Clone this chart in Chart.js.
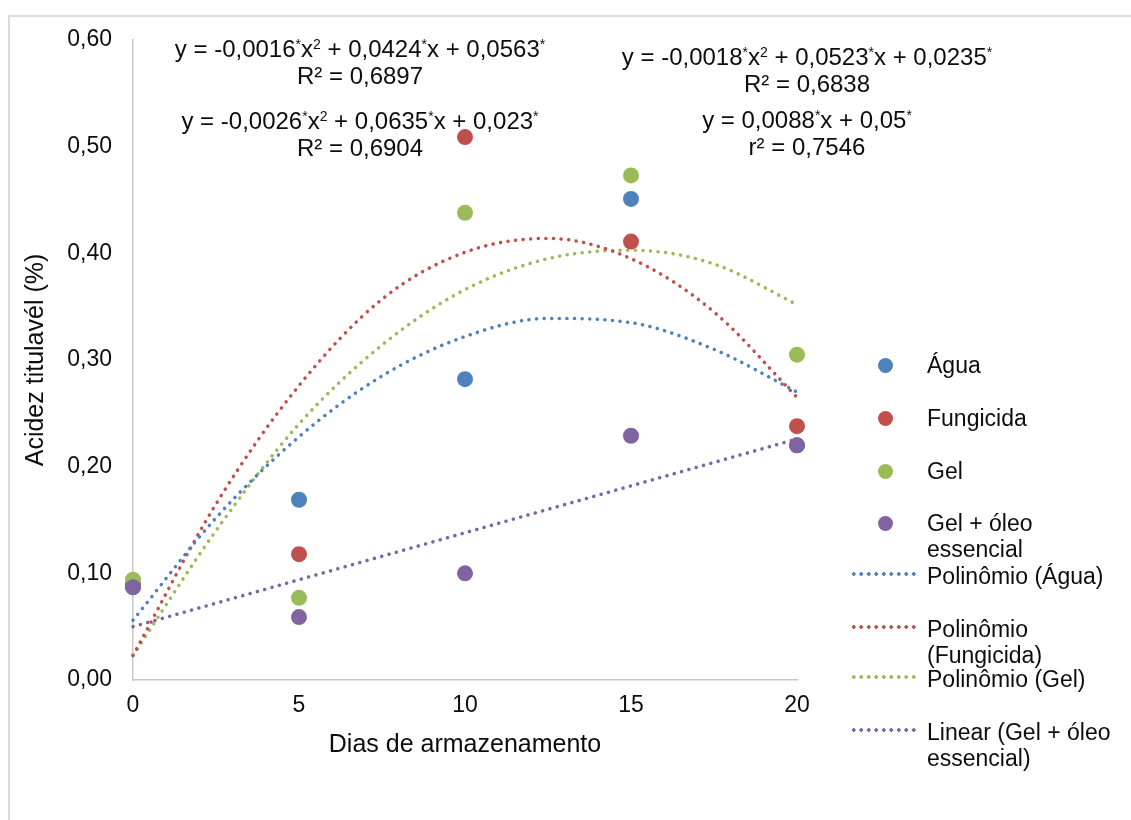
<!DOCTYPE html>
<html lang="pt">
<head>
    <meta charset="UTF-8">
    <title>Acidez titulável</title>
    <script src="https://cdn.jsdelivr.net/npm/chart.js"></script>
    <style>
        body {
            margin: 0;
            width: 1131px;
            height: 820px;
            overflow: hidden;
            background: #fff;
            font-family: "Liberation Sans", Arial, sans-serif;
            color: #0d0d0d;
        }
        .wrap { position: relative; width: 1131px; height: 820px; }
        .frame {
            position: absolute; left: 8px; top: 15px;
            width: 1200px; height: 900px;
            border: 2px solid #dcdcdc;
        }
        canvas { position: absolute; left: 0; top: 0; }
        .eq {
            position: absolute;
            transform: translateX(-50%);
            text-align: center;
            font-size: 24px;
            line-height: 27px;
            white-space: nowrap;
        }
        .eq sup { font-size: 14px; vertical-align: 8px; line-height: 0; }
        .leg {
            position: absolute;
            left: 927px;
            font-size: 23px;
            line-height: 26px;
            white-space: nowrap;
        }
        .dot {
            position: absolute;
            width: 15px; height: 15px;
            border-radius: 50%;
        }
        .dash {
            position: absolute;
            left: 850px; width: 67px; height: 4px;
            background-size: 7.5px 4px;
            background-repeat: repeat-x;
        }
    </style>
</head>
<body>
<div class="wrap">
    <div class="frame"></div>
    <canvas id="chart" width="1131" height="820"></canvas>

    <div class="eq" style="left:360px; top:35px;">y = -0,0016<sup>*</sup>x<sup>2</sup> + 0,0424<sup>*</sup>x + 0,0563<sup>*</sup><br>R² = 0,6897</div>
    <div class="eq" style="left:360px; top:107px;">y = -0,0026<sup>*</sup>x<sup>2</sup> + 0,0635<sup>*</sup>x + 0,023<sup>*</sup><br>R² = 0,6904</div>
    <div class="eq" style="left:807px; top:43px;">y = -0,0018<sup>*</sup>x<sup>2</sup> + 0,0523<sup>*</sup>x + 0,0235<sup>*</sup><br>R² = 0,6838</div>
    <div class="eq" style="left:807px; top:106px;">y = 0,0088<sup>*</sup>x + 0,05<sup>*</sup><br>r² = 0,7546</div>

    <div id="legend"></div>
</div>

<script>
    // observed values
    const dias = [0, 5, 10, 15, 20];
    const agua = [0.087, 0.169, 0.282, 0.451, 0.220];
    const fungicida = [0.090, 0.118, 0.509, 0.411, 0.238];
    const gel = [0.094, 0.077, 0.438, 0.473, 0.305];
    const gelOleo = [0.087, 0.059, 0.100, 0.229, 0.220];

    // trend lines
    const trendX = [0, 2.5, 5, 7.5, 10, 12.5, 15, 17.5, 20];
    const trendAgua = [0.056, 0.152, 0.228, 0.285, 0.322, 0.339, 0.335, 0.310, 0.270];
    const trendFungicida = [0.023, 0.165, 0.276, 0.357, 0.401, 0.414, 0.395, 0.345, 0.265];
    const trendGel = [0.023, 0.140, 0.240, 0.314, 0.366, 0.395, 0.403, 0.390, 0.352];
    const linearX = [0, 20];
    const linearGelOleo = [0.050, 0.226];

    const yTickLabels = ['0,00', '0,10', '0,20', '0,30', '0,40', '0,50', '0,60'];

    const azul = '#4f81bd', vermelho = '#c0504d', verde = '#9bbb59', roxo = '#8064a2';

    function pts(xs, ys) {
        return xs.map((x, i) => ({ x: x, y: ys[i] }));
    }

    function pointSet(label, ys, color, order) {
        return {
            label: label, data: pts(dias, ys), order: order, clip: false,
            backgroundColor: color, borderColor: color,
            pointRadius: 8, pointHoverRadius: 8, borderWidth: 0
        };
    }

    function trendSet(label, xs, ys, color) {
        return {
            label: label, data: pts(xs, ys), order: 10, clip: false,
            showLine: true, pointRadius: 0, borderColor: color,
            borderWidth: 3.5, borderDash: [0.1, 7.5], borderCapStyle: 'round',
            cubicInterpolationMode: 'monotone', fill: false
        };
    }

    new Chart(document.getElementById('chart').getContext('2d'), {
        type: 'scatter',
        data: {
            datasets: [
                pointSet('Água', agua, azul, 4),
                pointSet('Fungicida', fungicida, vermelho, 3),
                pointSet('Gel', gel, verde, 2),
                pointSet('Gel + óleo essencial', gelOleo, roxo, 1),
                trendSet('Polinômio (Água)', trendX, trendAgua, azul),
                trendSet('Polinômio (Fungicida)', trendX, trendFungicida, vermelho),
                trendSet('Polinômio (Gel)', trendX, trendGel, verde),
                trendSet('Linear (Gel + óleo essencial)', linearX, linearGelOleo, roxo)
            ]
        },
        options: {
            responsive: false,
            animation: false,
            devicePixelRatio: 1,
            layout: { padding: { left: 0, top: 40, right: 334, bottom: 0 } },
            plugins: { legend: { display: false }, tooltip: { enabled: false } },
            scales: {
                x: {
                    type: 'linear', min: 0, max: 20,
                    grid: { display: false, drawTicks: false },
                    border: { display: true, color: '#c8c8c8', width: 1.5 },
                    ticks: { stepSize: 5, padding: 12, color: '#0d0d0d',
                        font: { family: 'Liberation Sans', size: 23 } },
                    title: { display: true, text: 'Dias de armazenamento', color: '#0d0d0d',
                        font: { family: 'Liberation Sans', size: 25 },
                        padding: { top: 0, bottom: 60 } },
                    afterFit: s => { s.height = 140; }
                },
                y: {
                    min: 0, max: 0.6,
                    grid: { display: false, drawTicks: false },
                    border: { display: true, color: '#c8c8c8', width: 1.5 },
                    ticks: { stepSize: 0.1, padding: 21, color: '#0d0d0d',
                        font: { family: 'Liberation Sans', size: 23 },
                        callback: (v, i) => yTickLabels[i] },
                    title: { display: true, text: 'Acidez titulavél (%)', color: '#0d0d0d',
                        font: { family: 'Liberation Sans', size: 25 },
                        padding: { top: 21, bottom: 0 } },
                    afterFit: s => { s.width = 133; }
                }
            }
        }
    });

    // legend (html so the labels can wrap like the original)
    const legendItems = [
        { kind: 'dot', color: azul, lines: ['Água'], y: 365 },
        { kind: 'dot', color: vermelho, lines: ['Fungicida'], y: 418 },
        { kind: 'dot', color: verde, lines: ['Gel'], y: 471 },
        { kind: 'dot', color: roxo, lines: ['Gel + óleo', 'essencial'], y: 523 },
        { kind: 'dash', color: azul, lines: ['Polinômio (Água)'], y: 576 },
        { kind: 'dash', color: vermelho, lines: ['Polinômio', '(Fungicida)'], y: 629 },
        { kind: 'dash', color: verde, lines: ['Polinômio (Gel)'], y: 679 },
        { kind: 'dash', color: roxo, lines: ['Linear (Gel + óleo', 'essencial)'], y: 732 }
    ];
    const legend = document.getElementById('legend');
    legendItems.forEach(item => {
        const m = document.createElement('div');
        if (item.kind === 'dot') {
            m.className = 'dot';
            m.style.left = '878px';
            m.style.top = (item.y - 7.5) + 'px';
            m.style.background = item.color;
        } else {
            m.className = 'dash';
            m.style.top = (item.y - 4) + 'px';
            m.style.backgroundImage = 'radial-gradient(circle, ' + item.color + ' 1.6px, transparent 1.9px)';
        }
        legend.appendChild(m);
        const t = document.createElement('div');
        t.className = 'leg';
        t.style.top = (item.y - 13) + 'px';
        t.innerHTML = item.lines.join('<br>');
        legend.appendChild(t);
    });
</script>
</body>
</html>
